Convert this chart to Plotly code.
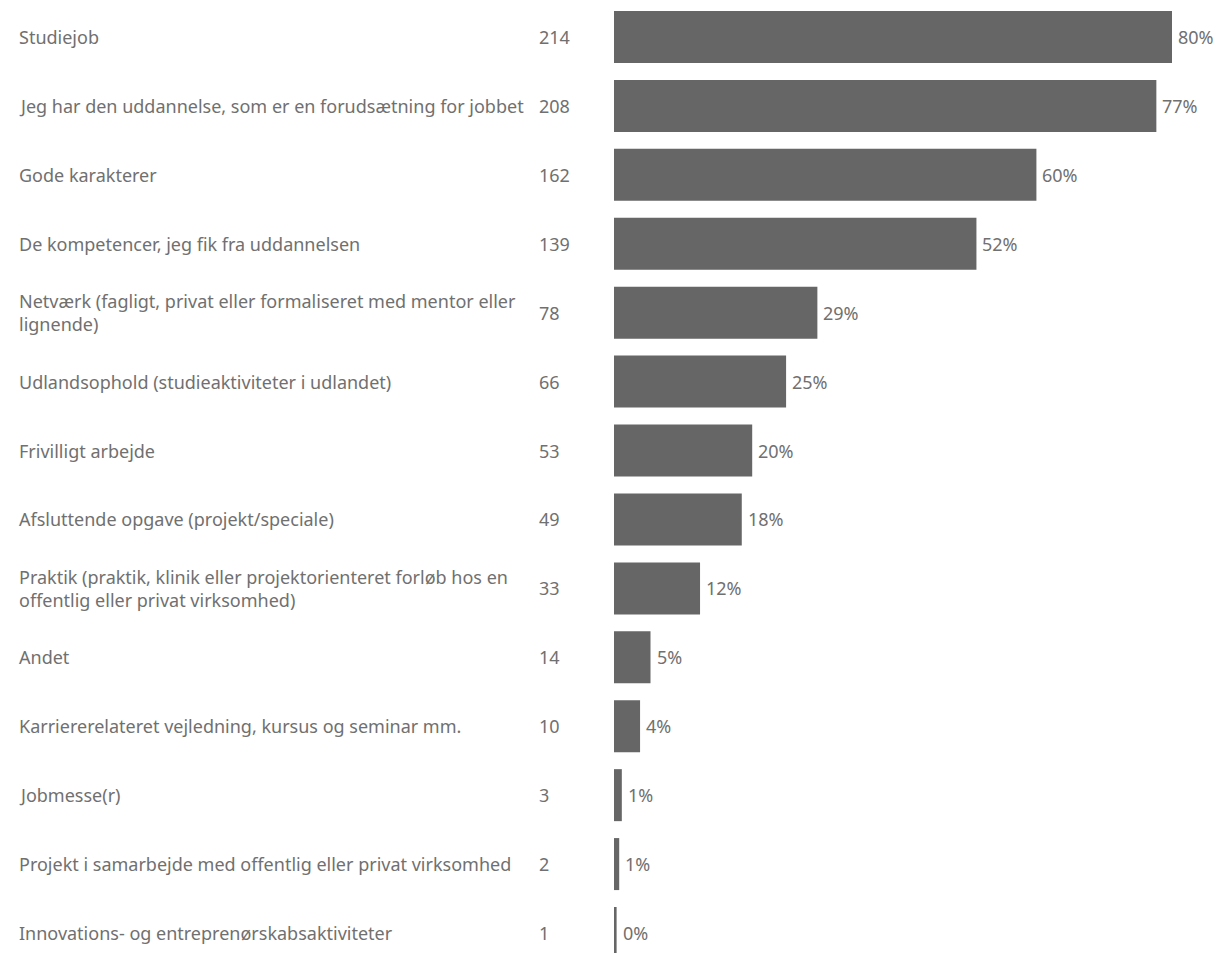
import plotly.graph_objects as go

categories = [
    "Studiejob",
    "Jeg har den uddannelse, som er en forudsætning for jobbet",
    "Gode karakterer",
    "De kompetencer, jeg fik fra uddannelsen",
    "Netværk (fagligt, privat eller formaliseret med mentor eller<br>lignende)",
    "Udlandsophold (studieaktiviteter i udlandet)",
    "Frivilligt arbejde",
    "Afsluttende opgave (projekt/speciale)",
    "Praktik (praktik, klinik eller projektorienteret forløb hos en<br>offentlig eller privat virksomhed)",
    "Andet",
    "Karriererelateret vejledning, kursus og seminar mm.",
    "Jobmesse(r)",
    "Projekt i samarbejde med offentlig eller privat virksomhed",
    "Innovations- og entreprenørskabsaktiviteter",
]
counts = [214, 208, 162, 139, 78, 66, 53, 49, 33, 14, 10, 3, 2, 1]
percent_labels = ["80%", "77%", "60%", "52%", "29%", "25%", "20%", "18%", "12%", "5%", "4%", "1%", "1%", "0%"]

W, H = 1217, 953
bar_x0 = 614
px_per_unit = (1172 - 614) / 214.0
row0 = 37.0
row_step = (933 - 37) / 13.0

rows = list(range(len(categories)))
FONT = "Noto Sans"
TXT = "#707070"
FS = 18

fig = go.Figure()
fig.add_trace(go.Bar(
    x=counts, y=rows, orientation="h",
    marker=dict(color="#666666", line=dict(width=0)),
    width=52 / row_step,
    hoverinfo="skip",
))

ann = []
for i, (c, n, p) in enumerate(zip(categories, counts, percent_labels)):
    ann.append(dict(x=17 / W, xref="paper", y=i, yref="y", text=c, showarrow=False,
                    xanchor="left", yanchor="middle", align="left",
                    font=dict(family=FONT, size=FS, color=TXT)))
    ann.append(dict(x=537 / W, xref="paper", y=i, yref="y", text=str(n), showarrow=False,
                    xanchor="left", yanchor="middle",
                    font=dict(family=FONT, size=FS, color=TXT)))
    ann.append(dict(x=n, xref="x", y=i, yref="y", text=p, showarrow=False,
                    xanchor="left", yanchor="middle", xshift=4,
                    font=dict(family=FONT, size=FS, color=TXT)))

fig.update_layout(
    width=W, height=H,
    margin=dict(l=0, r=0, t=0, b=0),
    paper_bgcolor="white", plot_bgcolor="white",
    showlegend=False,
    annotations=ann,
    xaxis=dict(domain=[bar_x0 / W, 1], range=[0, (W - bar_x0) / px_per_unit],
               visible=False, fixedrange=True),
    yaxis=dict(range=[(H - row0) / row_step, -row0 / row_step],
               visible=False, fixedrange=True),
)
fig.write_html(
    "out.html",
    config={"displayModeBar": False},
    post_script="document.body.style.margin='0px';document.body.style.overflow='hidden';",
)
